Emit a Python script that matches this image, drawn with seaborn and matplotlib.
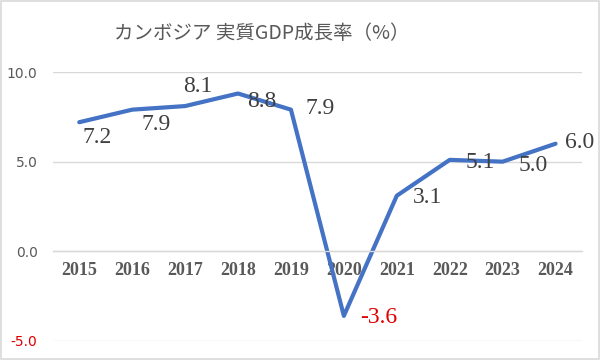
import matplotlib
matplotlib.use("Agg")
import matplotlib.pyplot as plt
import seaborn as sns
import pandas as pd
from matplotlib.patches import Rectangle

years = ["2015", "2016", "2017", "2018", "2019", "2020", "2021", "2022", "2023", "2024"]
growth = [7.2, 7.9, 8.1, 8.8, 7.9, -3.6, 3.1, 5.1, 5.0, 6.0]
yticks = [-5.0, 0.0, 5.0, 10.0]
title = "カンボジア 実質GDP成長率（%）"

# label offsets in points (dx, dy)
label_offsets = [(13, -11), (17, -11), (9, 14), (17, -6), (21, 1),
                 (25, -1), (22, -1), (22, -2), (22, -3), (17, 1)]

sns.set_theme(style="white")
plt.rcParams['font.family'] = ['Noto Sans CJK JP', 'DejaVu Sans']

df = pd.DataFrame({"year": years, "growth": growth})

fig = plt.figure(figsize=(6, 3.6), dpi=100)
ax = fig.add_axes([0.088, 0.0528, 0.882, 0.7472])

sns.lineplot(data=df, x="year", y="growth", ax=ax, color="#4472C4",
             linewidth=3, sort=False)

ax.set_xlim(-0.5, len(years) - 0.5)
ax.set_ylim(-5, 10)
ax.set_yticks(yticks)
ax.set_yticklabels([f"{v:.1f}" for v in yticks])
for t, v in zip(ax.get_yticklabels(), yticks):
    t.set_color("#E00000" if v < 0 else "#595959")
    t.set_fontsize(10)
    t.set_fontfamily(["DejaVu Sans"])

ax.grid(axis="y", color="#D9D9D9", linewidth=1)
ax.set_axisbelow(True)
for s in ["top", "right", "left"]:
    ax.spines[s].set_visible(False)
ax.spines["bottom"].set_position(("data", 0))
ax.spines["bottom"].set_color("#D9D9D9")
ax.spines["bottom"].set_linewidth(1)
ax.tick_params(axis="x", length=0, pad=8)
ax.tick_params(axis="y", length=0, pad=11)
for t in ax.get_xticklabels():
    t.set_fontfamily(["Liberation Serif"])
    t.set_fontweight("bold")
    t.set_fontsize(13)
    t.set_color("#595959")
ax.set_xlabel("")
ax.set_ylabel("")

for i, (v, off) in enumerate(zip(growth, label_offsets)):
    ax.annotate(f"{v:.1f}", (i, v), xytext=off, textcoords="offset points",
                ha="center", va="center", fontsize=17,
                family=["Liberation Serif"],
                color="#E00000" if v < 0 else "#404040", annotation_clip=False)

fig.text(0.437, 0.908, title, ha="center", va="center", fontsize=14,
         color="#595959", family=["Noto Sans CJK JP", "DejaVu Sans"])

fig.patches.append(Rectangle((0.002, 0.003), 0.996, 0.994, transform=fig.transFigure,
                             fill=False, edgecolor="#D9D9D9", linewidth=1.2))

fig.savefig("out.png", dpi=100)
